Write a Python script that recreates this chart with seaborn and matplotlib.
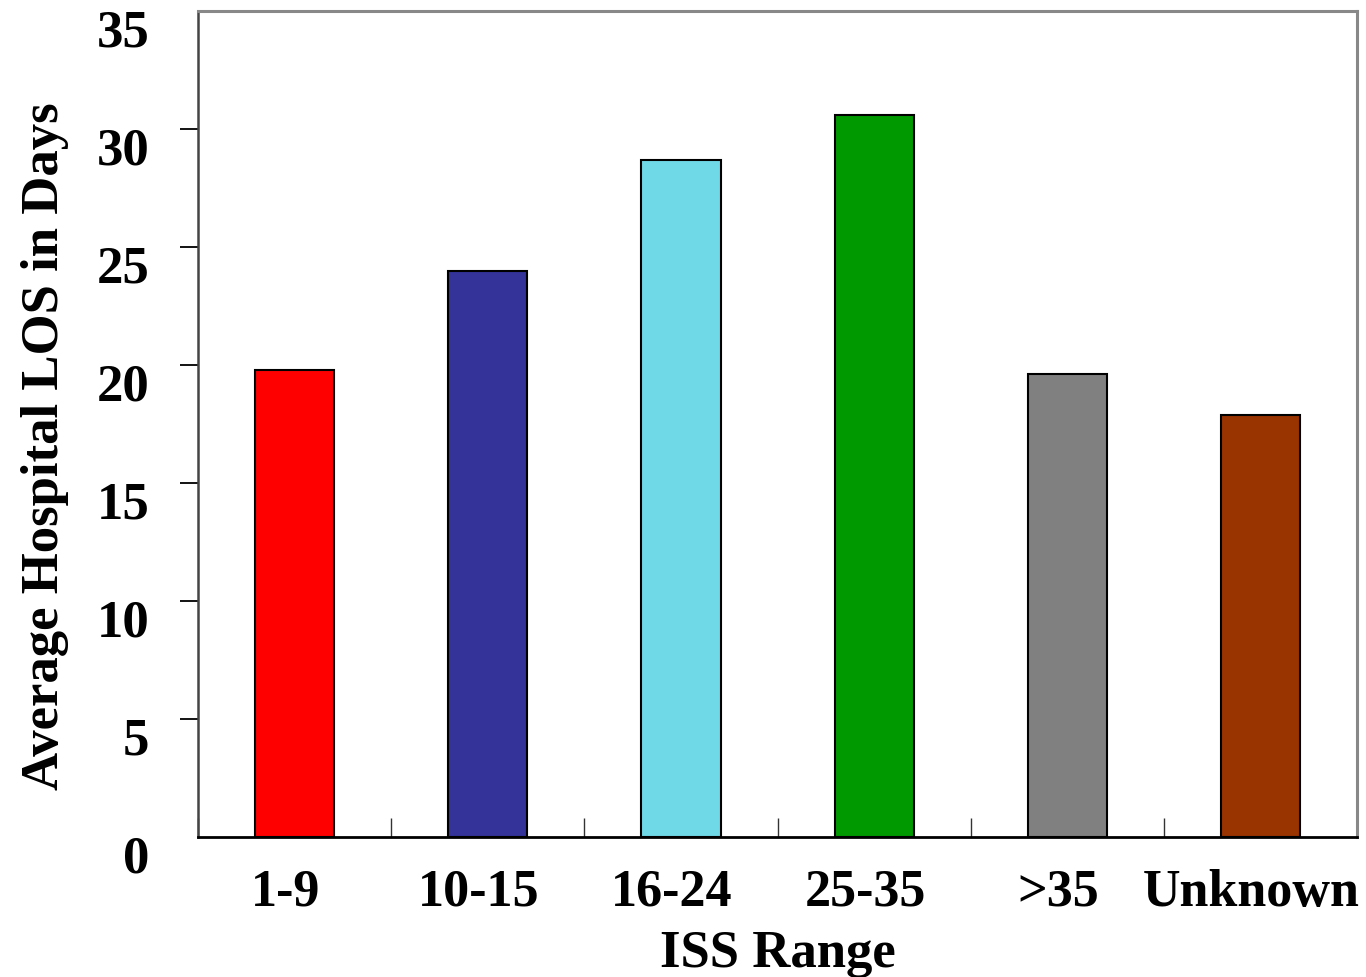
import matplotlib
matplotlib.use("Agg")
import matplotlib.pyplot as plt
import seaborn as sns
import pandas as pd
from matplotlib.transforms import ScaledTranslation

categories = ["1-9", "10-15", "16-24", "25-35", ">35", "Unknown"]
values = [19.8, 24.0, 28.7, 30.6, 19.6, 17.9]
colors = ["#FF0000", "#333399", "#70D9E7", "#009900", "#808080", "#993300"]
yticks = [0, 5, 10, 15, 20, 25, 30, 35]

sns.set_theme(style="white")
plt.rcParams['font.family'] = ['Liberation Serif', 'DejaVu Serif']
plt.rcParams['font.weight'] = 'bold'
plt.rcParams['text.color'] = 'black'
plt.rcParams['axes.labelcolor'] = 'black'
plt.rcParams['xtick.color'] = 'black'
plt.rcParams['ytick.color'] = 'black'

df = pd.DataFrame({"ISS": categories, "LOS": values})

fig = plt.figure(figsize=(13.66, 9.78), dpi=100)
ax = fig.add_axes([0.145, 0.1431, 0.9934 - 0.145, 0.9877 - 0.1431])

sns.barplot(data=df, x="ISS", y="LOS", hue="ISS", palette=colors, order=categories,
            hue_order=categories, legend=False, width=0.41, edgecolor="black",
            linewidth=1.5, saturation=1, ax=ax)

ax.set_xlim(-0.5, len(categories) - 0.5)
ax.set_ylim(0, 35)
ax.set_yticks(yticks)
ax.set_yticklabels([str(t) for t in yticks], fontsize=38, fontweight="bold", color="black")
ax.set_xticks(range(len(categories)))
ax.set_xticklabels(categories, fontsize=37.5, fontweight="bold", color="black")
ax.set_xticks([i + 0.5 for i in range(-1, len(categories))], minor=True)

ax.tick_params(axis="y", which="major", direction="out", length=13, width=1.3,
               color="black", pad=22, left=True)
ax.tick_params(axis="x", which="major", length=0, pad=22)
ax.tick_params(axis="x", which="minor", direction="in", length=14, width=1,
               color="#333333", bottom=True)

ytl = ax.yaxis.get_major_ticks()
for t in (ytl[0], ytl[-1]):
    t.tick1line.set_visible(False)

for lab in ax.get_yticklabels():
    lab.set_transform(lab.get_transform() + ScaledTranslation(0, -0.16, fig.dpi_scale_trans))
for lab in ax.get_xticklabels():
    lab.set_transform(lab.get_transform() + ScaledTranslation(-0.09, 0, fig.dpi_scale_trans))

ax.set_xlabel("ISS Range", fontsize=38, fontweight="bold", labelpad=10, color="black")
ax.set_ylabel("Average Hospital LOS in Days", fontsize=38, fontweight="bold", labelpad=20,
              color="black")
ax.yaxis.label.set_y(0.475)

for s in ["top", "right"]:
    ax.spines[s].set_color("#888888")
    ax.spines[s].set_linewidth(2.2)
ax.spines["left"].set_color("#444444")
ax.spines["left"].set_linewidth(1.8)
ax.spines["bottom"].set_color("black")
ax.spines["bottom"].set_linewidth(2)

fig.savefig("out.png", dpi=100, facecolor="white")
